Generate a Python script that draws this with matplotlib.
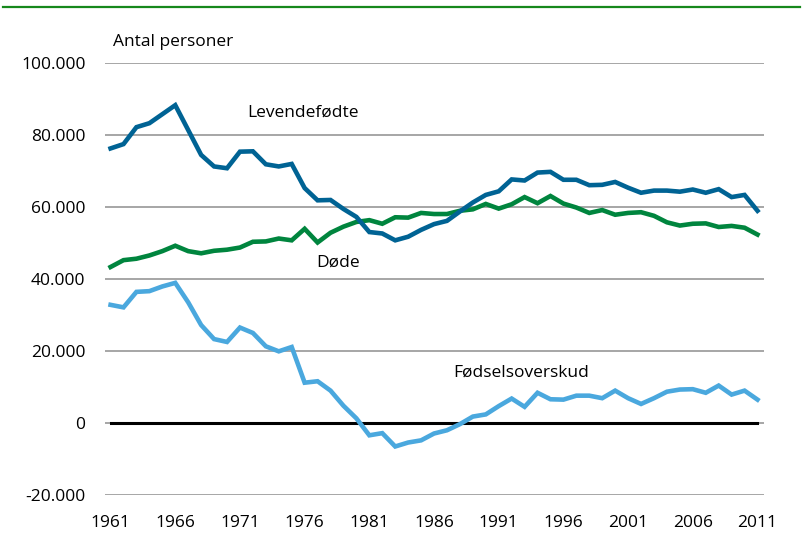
import matplotlib
matplotlib.use('Agg')
import matplotlib.pyplot as plt
from matplotlib import font_manager
from matplotlib.lines import Line2D

# font: condensed sans if we have it
names = set(f.name for f in font_manager.fontManager.ttflist)
if 'Liberation Sans Narrow' in names:
    plt.rcParams['font.family'] = ['Liberation Sans Narrow', 'DejaVu Sans']
    fs = 15
else:
    plt.rcParams['font.family'] = ['Open Sans', 'DejaVu Sans']
    fs = 12.5

years = list(range(1961, 2012))
levendefodte = [76.3, 77.5, 82.2, 83.3, 85.8, 88.3, 81.4, 74.5, 71.3, 70.8,
                75.4, 75.5, 71.9, 71.3, 72.0, 65.3, 61.9, 62.0, 59.5, 57.3,
                53.1, 52.7, 50.8, 51.8, 53.7, 55.3, 56.2, 58.8, 61.3, 63.4,
                64.4, 67.7, 67.4, 69.6, 69.8, 67.6, 67.6, 66.1, 66.2, 67.0,
                65.4, 64.0, 64.6, 64.6, 64.3, 64.9, 64.0, 65.0, 62.8, 63.4,
                59.0]
dode = [43.4, 45.3, 45.7, 46.6, 47.8, 49.3, 47.8, 47.2, 47.9, 48.2,
        48.8, 50.4, 50.5, 51.3, 50.8, 54.0, 50.2, 52.9, 54.6, 55.9,
        56.4, 55.4, 57.2, 57.1, 58.4, 58.1, 58.1, 59.0, 59.4, 60.9,
        59.6, 60.8, 62.8, 61.1, 63.1, 61.0, 59.9, 58.4, 59.2, 57.9,
        58.4, 58.6, 57.6, 55.8, 54.9, 55.4, 55.5, 54.5, 54.8, 54.3,
        52.4]
overskud = [32.9, 32.2, 36.5, 36.7, 38.0, 39.0, 33.6, 27.3, 23.4, 22.6,
            26.6, 25.1, 21.4, 20.0, 21.2, 11.3, 11.7, 9.1, 4.9, 1.4,
            -3.3, -2.7, -6.4, -5.3, -4.7, -2.8, -1.9, -0.2, 1.9, 2.5,
            4.8, 6.9, 4.6, 8.5, 6.7, 6.6, 7.7, 7.7, 7.0, 9.1,
            7.0, 5.4, 7.0, 8.8, 9.4, 9.5, 8.5, 10.5, 8.0, 9.1,
            6.6]
# tusinder -> personer
levendefodte = [v * 1000 for v in levendefodte]
dode = [v * 1000 for v in dode]
overskud = [v * 1000 for v in overskud]

yticks = [-20000, 0, 20000, 40000, 60000, 80000, 100000]
ylabels = ['-20.000', '0', '20.000', '40.000', '60.000', '80.000', '100.000']
xticks = list(range(1961, 2012, 5))

fig = plt.figure(figsize=(8.04, 5.34), dpi=100)
ax = fig.add_axes([0.1306, 0.0721, 0.8196, 0.8099])

ax.plot(years, [0] * len(years), color='black', lw=2.2, zorder=3)
ax.plot(years, overskud, color='#4aa8de', lw=3.3, solid_joinstyle='miter', zorder=4)
ax.plot(years, dode, color='#00853e', lw=3.3, solid_joinstyle='miter', zorder=5)
ax.plot(years, levendefodte, color='#006394', lw=3.3, solid_joinstyle='miter', zorder=6)

ax.set_xlim(1960.57, 2011.5)
ax.set_ylim(-20000, 100000)
ax.set_yticks(yticks)
ax.set_yticklabels(ylabels)
ax.set_xticks(xticks)
ax.tick_params(axis='both', length=0, labelsize=fs)
ax.tick_params(axis='y', pad=14)
ax.tick_params(axis='x', pad=14)
ax.grid(True, axis='y', color='#a6a6a6', lw=1.4)
ax.set_axisbelow(True)
for s in ax.spines.values():
    s.set_visible(False)

ax.text(1971.6, 86100, 'Levendefødte', fontsize=fs, va='center', ha='left')
ax.text(1976.9, 44600, 'Døde', fontsize=fs, va='center', ha='left')
ax.text(1987.5, 14200, 'Fødselsoverskud', fontsize=fs, va='center', ha='left')
fig.text(113 / 804, 1 - 42 / 534, 'Antal personer', fontsize=fs, va='center', ha='left')

# green rule at the top
fig.add_artist(Line2D([3 / 804, 800 / 804], [1 - 7.3 / 534, 1 - 7.3 / 534],
                      color='#16881c', lw=1.6, transform=fig.transFigure))

fig.savefig('out.png', dpi=100)
